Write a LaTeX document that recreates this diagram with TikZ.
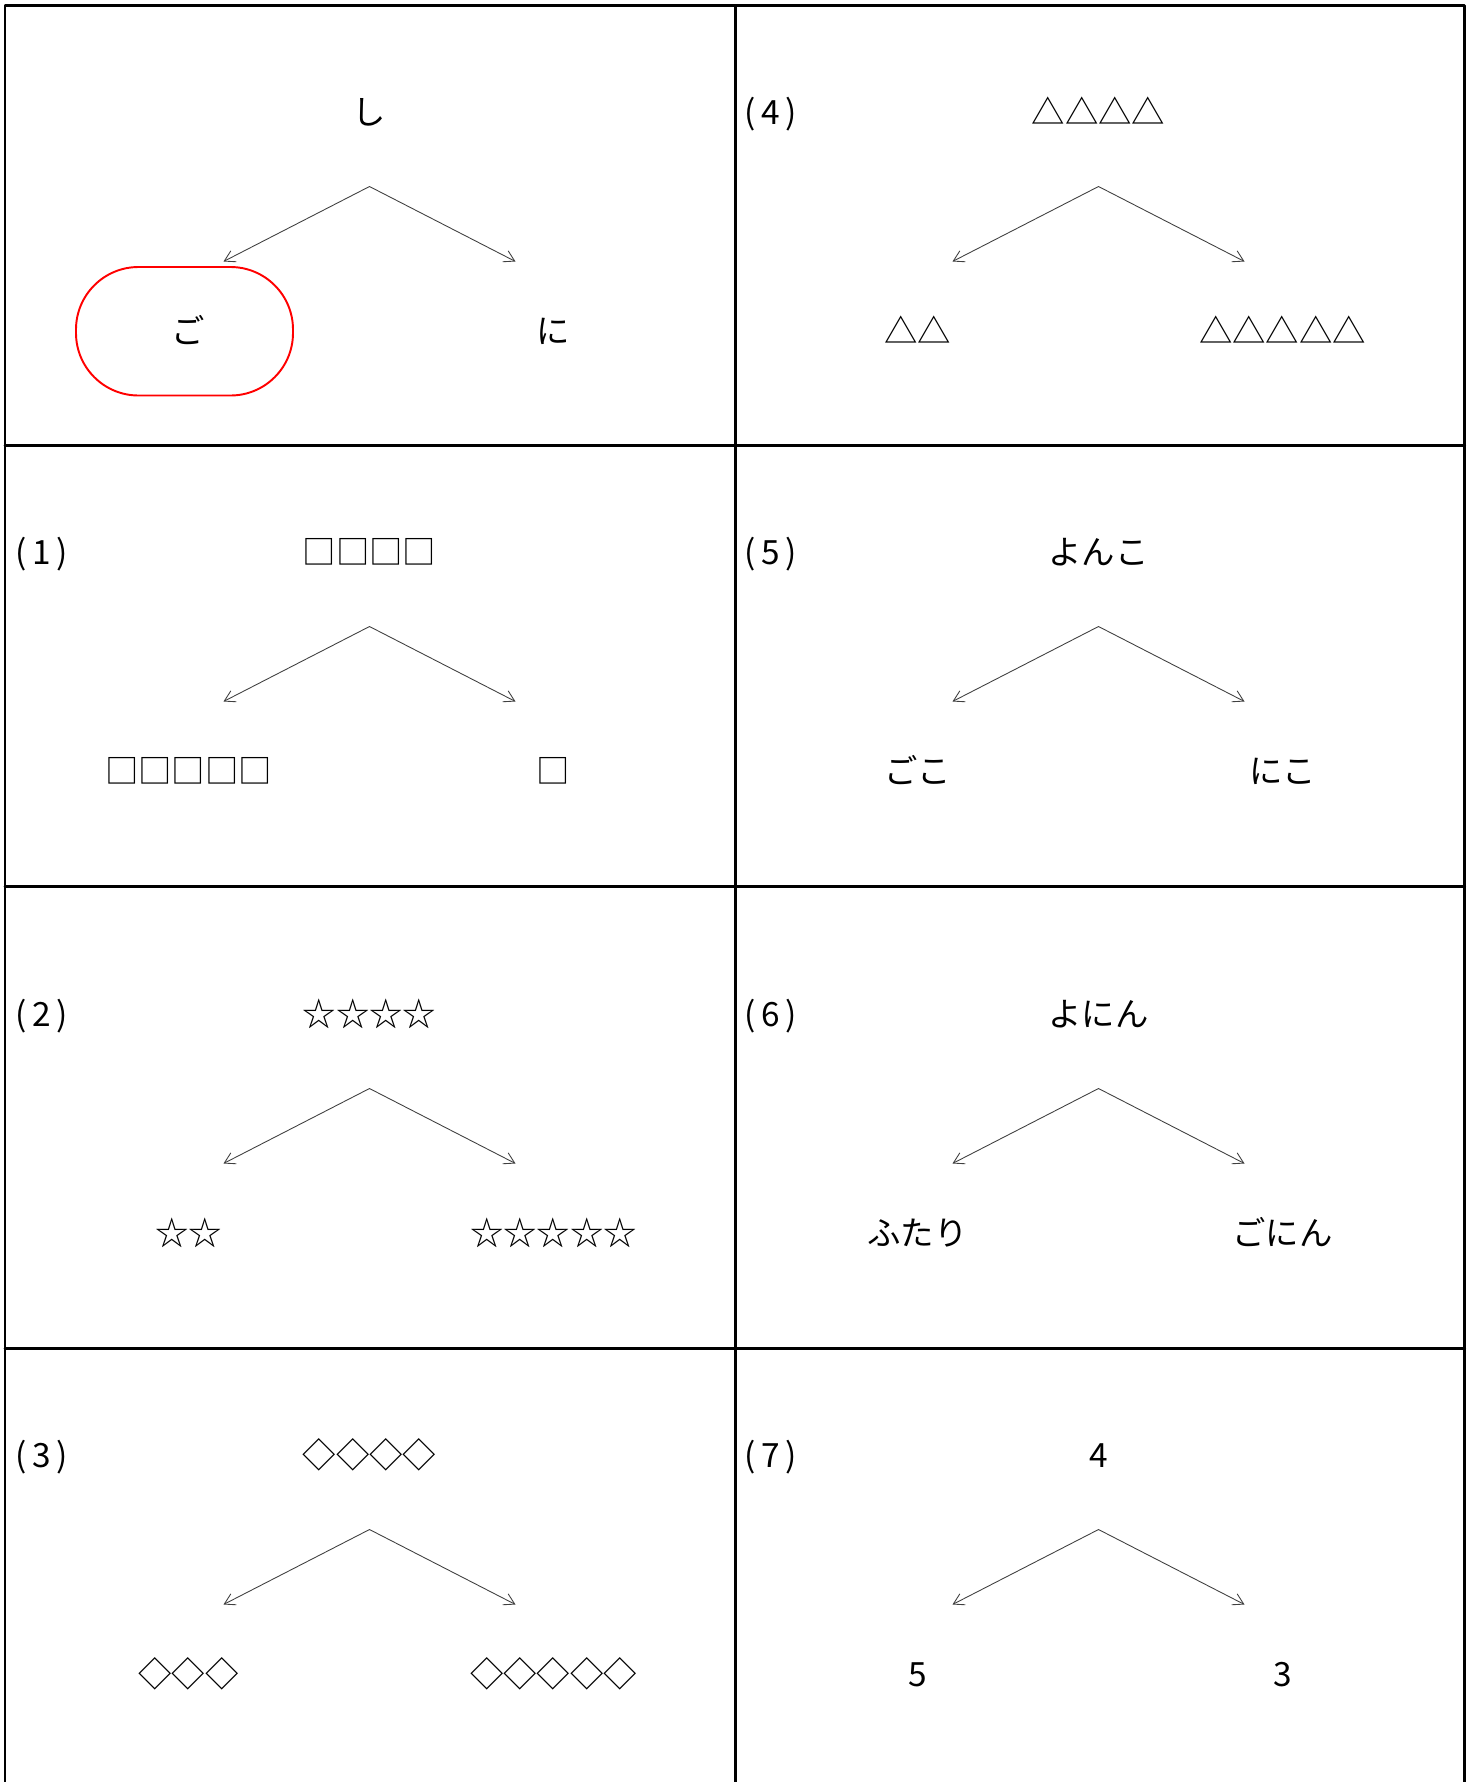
\documentclass[tikz,border=0pt]{standalone}
\usepackage{fontspec}
\setmainfont{Noto Sans CJK JP}
\usepackage{tikz}
\usetikzlibrary{arrows.meta}

\tikzset{
  word/.style={font=\fontsize{19}{23}\selectfont, inner sep=0pt, text height=1.3em, text depth=0em},
  branch/.style={draw=black!75, line width=0.5pt, -{Straight Barb[length=6pt,width=7pt]}},
  tableline/.style={line width=1.7pt},
  marked/.style={draw=red, line width=1.1pt, rounded corners=1.25cm}
}

\begin{document}
\begin{tikzpicture}[line cap=round, line join=round]
  \useasboundingbox (0,0) rectangle (29.46,-35.64);
  % table
  \draw[tableline] (0.1,-35.8) |- (29.29,-0.11) -- (29.29,-35.8);
  \draw[tableline] (14.71,-0.11) -- (14.71,-35.8);
  \foreach \y in {-8.91,-17.73,-26.96}
    \draw[tableline] (0.1,\y) -- (29.29,\y);
  % trees
  \foreach \k/\cx/\ty/\num/\up/\lo/\ro in {
      0/7.39/2.27/{}/し/ご/に,
      1/7.39/11.07/(\,1\,)/□□□□/□□□□□/□,
      2/7.39/20.31/(\,2\,)/☆☆☆☆/☆☆/☆☆☆☆☆,
      3/7.39/29.13/(\,3\,)/◇◇◇◇/◇◇◇/◇◇◇◇◇,
      4/21.97/2.27/(\,4\,)/△△△△/△△/△△△△△,
      5/21.97/11.07/(\,5\,)/よんこ/ごこ/にこ,
      6/21.97/20.31/(\,6\,)/よにん/ふたり/ごにん,
      7/21.97/29.13/(\,7\,)/4/5/3}{
    \node[word, anchor=west] (n\k) at (\cx-7.09,-\ty) {\num};
    \node[word] (t\k) at (\cx,-\ty) {\up};
    \coordinate (a\k) at (\cx,-\ty-1.46);
    \coordinate (l\k) at (\cx-2.92,-\ty-2.96);
    \coordinate (r\k) at (\cx+2.92,-\ty-2.96);
    \draw[branch] (a\k) -- (l\k);
    \draw[branch] (a\k) -- (r\k);
    \node[word] (bl\k) at (\cx-3.62,-\ty-4.37) {\lo};
    \node[word] (br\k) at (\cx+3.68,-\ty-4.37) {\ro};
  }
  % answer circled
  \draw[marked] (1.52,-5.34) rectangle (5.86,-7.91);
\end{tikzpicture}
\end{document}
